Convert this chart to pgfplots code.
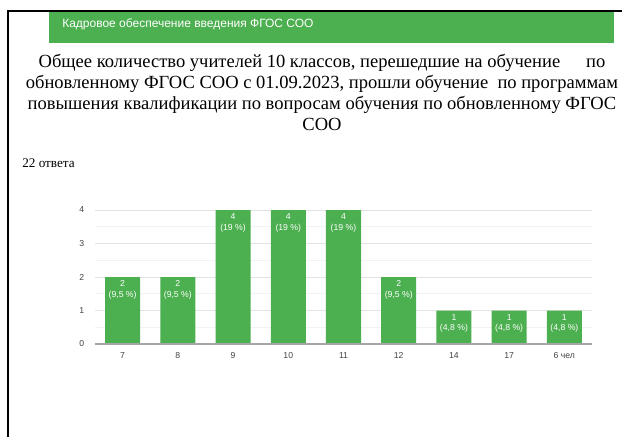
\documentclass[border=0pt]{standalone}
\usepackage{fontspec}
\setmainfont{Liberation Serif}
\newfontfamily\sans{Liberation Sans}
\usepackage{pgfplots}
\usepackage{pgfplotstable}
\pgfplotsset{compat=1.18}
\definecolor{gf}{HTML}{4CAF50}
\definecolor{tickc}{HTML}{444444}
\pgfplotstableread{
x y pct
0 2 9,5
1 2 9,5
2 4 19
3 4 19
4 4 19
5 2 9,5
6 1 4,8
7 1 4,8
8 1 4,8
}\data
\begin{document}
\begin{tikzpicture}[x=0.75pt,y=-0.75pt]
\path[use as bounding box, fill=white] (0,0) rectangle (641,437);
\draw[line width=1.5pt] (8,437) -- (8,10.5) -- (622,10.5);
\fill[gf] (49,11.5) rectangle (614,42.5);
\node[anchor=base west, inner sep=0, text=white, font=\sans\fontsize{9}{11}\selectfont] at (62,27) {Кадровое обеспечение введения ФГОС СОО};
\begin{scope}[every node/.style={anchor=base, inner sep=0, font=\fontsize{13.9}{16}\selectfont}]
\node at (322,67.5) {Общее количество учителей 10 классов, перешедшие на обучение\hspace{16pt} по};
\node at (322,88.5) {обновленному ФГОС СОО с 01.09.2023, прошли обучение\ \ по программам};
\node at (322,109.5) {повышения квалификации по вопросам обучения по обновленному ФГОС};
\node at (322,130.5) {СОО};
\end{scope}
\node[anchor=base west, inner sep=0, font=\fontsize{9.9}{12}\selectfont] at (22,167.5) {22 ответа};
\begin{axis}[
  at={(71.25pt,-258pt)}, anchor=south west,
  scale only axis, width=372.75pt, height=100.5pt,
  xmin=-0.5, xmax=8.5, ymin=0, ymax=4,
  axis line style={draw=none},
  major tick length=0pt, minor tick length=0pt,
  ytick={0,1,2,3,4}, minor ytick={0.5,1.5,2.5,3.5},
  ymajorgrids, yminorgrids,
  major grid style={draw=gray!22, line width=0.6pt},
  minor grid style={draw=gray!10, line width=0.6pt},
  xtick={0,1,2,3,4,5,6,7,8},
  xticklabels={7,8,9,10,11,12,14,17,6 чел},
  ticklabel style={font=\sans\fontsize{6.5}{8}\selectfont, text=tickc},
  /pgf/number format/assume math mode=true,
  xticklabel style={yshift=-3pt},
  yticklabel style={xshift=-4.5pt},
  clip=false,
]
\addplot[ybar, bar width=26.25pt, fill=gf, draw=none,
  point meta=explicit symbolic,
  visualization depends on={rawy\as\yval},
  nodes near coords={\pgfmathprintnumber{\yval}\\(\pgfplotspointmeta\ \%)},
  nodes near coords align={below},
  nodes near coords style={anchor=north, align=center, text=white, font=\sans\fontsize{6.5}{8}\selectfont, inner sep=2.5pt, /pgf/number format/assume math mode=true}
] table[x=x, y=y, meta=pct] {\data};
\draw[gray!70, line width=1pt] (rel axis cs:0,0) -- (rel axis cs:1,0);
\end{axis}
\end{tikzpicture}
\end{document}
